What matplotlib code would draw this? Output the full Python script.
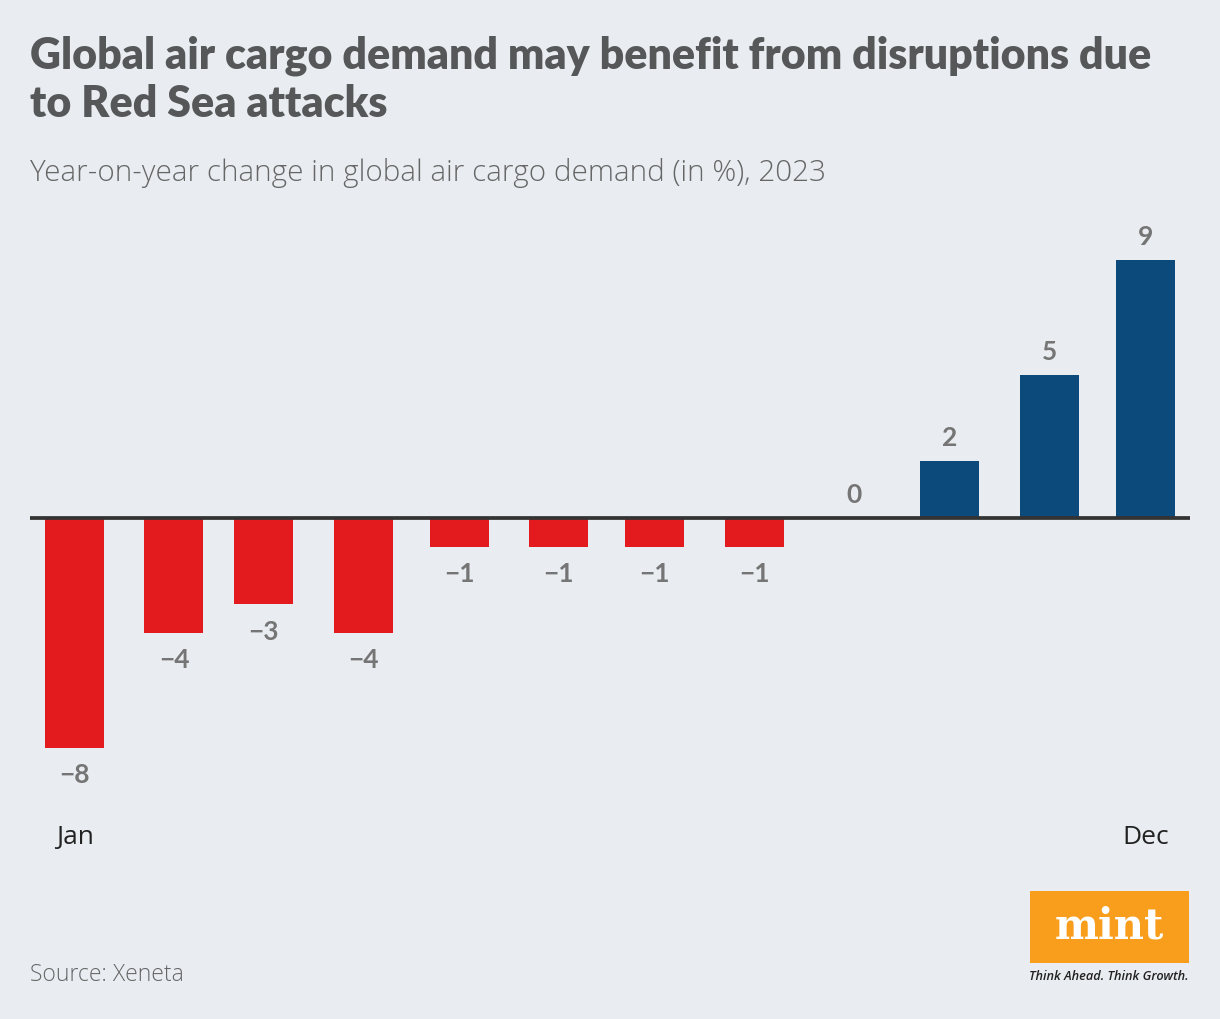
import matplotlib
matplotlib.use("Agg")
import matplotlib.pyplot as plt
import matplotlib.dates as mdates
import pandas as pd
from matplotlib.patches import Rectangle

# Dati (variazione annua % della domanda di cargo aereo, 2023)
mesi = ['Jan', 'Feb', 'Mar', 'Apr', 'May', 'Jun', 'Jul', 'Aug', 'Sep', 'Oct', 'Nov', 'Dec']
date = pd.date_range('2023-01-01', periods=12, freq='MS')
valori = [-8, -4, -3, -4, -1, -1, -1, -1, 0, 2, 5, 9]
etichette_asse = ['Jan', 'Dec']

SFONDO = '#e9ecf0'
ROSSO = '#e31b1e'
BLU = '#0b4a7a'
GRIGIO = '#757575'

fig = plt.figure(figsize=(12.2, 10.2), dpi=100, facecolor=SFONDO)
ax = fig.add_axes([30 / 1220, 1 - 815 / 1020, 1160 / 1220, 595 / 1020])
ax.set_facecolor(SFONDO)

x = mdates.date2num(date)
colori = [ROSSO if v < 0 else BLU for v in valori]
ax.bar(x, valori, width=18.4, color=colori, zorder=2)
ax.axhline(0, color='#333333', linewidth=2.7, zorder=3)

# Etichette dei valori
for xi, v in zip(x, valori):
    testo = str(v).replace('-', '\u2212')
    if v < 0:
        ax.annotate(testo, (xi, v), xytext=(0, -19), textcoords='offset points',
                    ha='center', va='center', fontsize=19, fontweight='bold',
                    color=GRIGIO, family='Lato')
    else:
        ax.annotate(testo, (xi, v), xytext=(0, 17), textcoords='offset points',
                    ha='center', va='center', fontsize=19, fontweight='bold',
                    color=GRIGIO, family='Lato')

ax.set_xlim(x[0] - 13.9, x[-1] + 13.9)
ax.set_ylim(-10.31, 10.42)
ax.set_yticks([])
ax.set_xticks([x[0], x[-1]])
ax.set_xticklabels(etichette_asse, fontsize=19, color='#222222', family='Open Sans')
ax.tick_params(axis='x', length=0, pad=7)
for s in ax.spines.values():
    s.set_visible(False)

# Titolo e sottotitolo
fig.text(30 / 1220, 1 - 68 / 1020,
         'Global air cargo demand may benefit from disruptions due',
         ha='left', va='baseline', fontsize=30.9, fontweight='heavy', color='#555759',
         family='Lato')
fig.text(30 / 1220, 1 - 117 / 1020, 'to Red Sea attacks',
         ha='left', va='baseline', fontsize=30.9, fontweight='heavy', color='#555759',
         family='Lato')
fig.text(30 / 1220, 1 - 181 / 1020,
         'Year-on-year change in global air cargo demand (in %), 2023',
         ha='left', va='baseline', fontsize=21.3, fontweight='light', color='#666666',
         family='Open Sans')

# Fonte
fig.text(30 / 1220, 1 - 981 / 1020, 'Source: Xeneta', ha='left', va='baseline',
         fontsize=16.5, fontweight='light', color='#666666', family='Open Sans')

# Logo mint
fig.patches.append(Rectangle((1030 / 1220, 1 - 964 / 1020), 159 / 1220, 72 / 1020,
                             transform=fig.transFigure, facecolor='#f99d1c',
                             edgecolor='none'))
fig.text(1109 / 1220, 1 - 927 / 1020, 'mint', ha='center', va='center',
         fontsize=30, fontweight='bold', color='white', family='DejaVu Serif')
fig.text(1109 / 1220, 1 - 977 / 1020, 'Think Ahead. Think Growth.', ha='center',
         va='center', fontsize=9.2, style='italic', fontweight='semibold',
         color='#222222', family='Open Sans')

fig.savefig('out.png', dpi=100, facecolor=SFONDO)
